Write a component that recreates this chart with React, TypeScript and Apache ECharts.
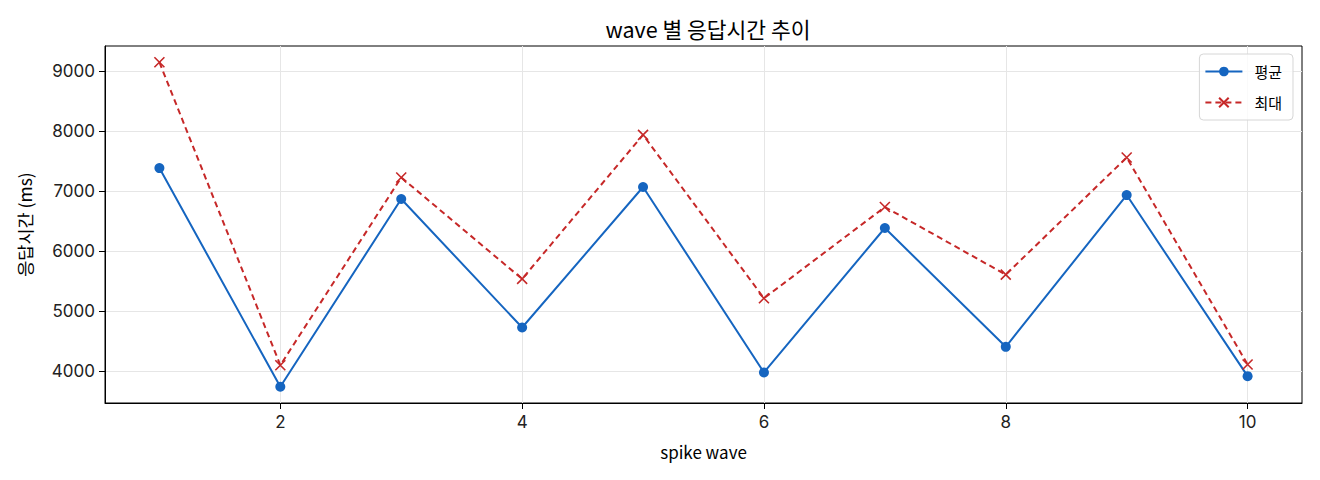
import { useEffect, useRef } from 'react';
import * as echarts from 'echarts';

const waves = [1, 2, 3, 4, 5, 6, 7, 8, 9, 10];
const avgMs = [7383, 3733, 6867, 4722, 7067, 3972, 6383, 4400, 6933, 3910];
const maxMs = [9150, 4093, 7227, 5533, 7938, 5210, 6733, 5605, 7560, 4105];
const xTicks = [2, 4, 6, 8, 10];
const yTicks = [4000, 5000, 6000, 7000, 8000, 9000];

const FONT = '"Noto Sans CJK KR", "Noto Sans", sans-serif';
const TICK_FONT = 'Inter, "Noto Sans CJK KR", sans-serif';

export default function App() {
  const chartRef = useRef<HTMLDivElement>(null);

  useEffect(() => {
    if (!chartRef.current) return;
    document.body.style.margin = '0';
    const chart = echarts.init(chartRef.current, undefined, { renderer: 'svg' });

    const xCross = 'path://M0,0L10,10M10,0L0,10';

    chart.setOption({
      animation: false,
      backgroundColor: '#fff',
      textStyle: { fontFamily: FONT },
      title: {
        text: 'wave 별 응답시간 추이',
        left: 703, top: 13, textAlign: 'center',
        textStyle: { fontSize: 21.5, fontWeight: 'normal', color: '#000', fontFamily: FONT },
      },
      legend: {
        orient: 'vertical', right: 27, top: 54,
        padding: [10, 11, 10, 5], itemGap: 16, itemWidth: 37, itemHeight: 12,
        backgroundColor: 'rgba(255,255,255,0.8)',
        borderColor: '#d6d6d6', borderWidth: 1, borderRadius: 4,
        textStyle: { fontSize: 15, color: '#000', fontFamily: FONT, padding: [0, 0, 0, 7] },
        data: ['평균', '최대'],
      },
      grid: {
        left: 105, right: 18, top: 46, bottom: 77,
        show: true, borderColor: '#000', borderWidth: 1,
      },
      xAxis: {
        type: 'value', min: 0.55, max: 10.45,
        name: 'spike wave', nameLocation: 'middle', nameGap: 40,
        nameTextStyle: { fontSize: 17, color: '#000', fontFamily: FONT },
        axisLine: { show: true, lineStyle: { color: '#000', width: 1 } },
        axisTick: { show: true, customValues: xTicks, length: 6, lineStyle: { color: '#000' } },
        axisLabel: { customValues: xTicks, fontSize: 17, color: '#222', margin: 10, fontFamily: TICK_FONT },
        splitLine: { show: true, lineStyle: { color: '#e6e6e6', width: 1 } },
      },
      yAxis: {
        type: 'value', min: 3462, max: 9421,
        name: '응답시간 (ms)', nameLocation: 'middle', nameGap: 72, nameRotate: 90,
        nameTextStyle: { fontSize: 17.5, color: '#000', fontFamily: FONT },
        axisLine: { show: true, lineStyle: { color: '#000', width: 1 } },
        axisTick: { show: true, customValues: yTicks, length: 6, lineStyle: { color: '#000' } },
        axisLabel: {
          customValues: yTicks, fontSize: 17, color: '#222', margin: 10, fontFamily: TICK_FONT,
          formatter: (v: number) => String(v),
        },
        splitLine: { show: true, lineStyle: { color: '#e6e6e6', width: 1 } },
      },
      series: [
        {
          name: '평균', type: 'line',
          data: waves.map((w, i) => [w, avgMs[i]]),
          symbol: 'circle', symbolSize: 10,
          itemStyle: { color: '#1565C0' },
          lineStyle: { color: '#1565C0', width: 2 },
          z: 3,
        },
        {
          name: '최대', type: 'line',
          data: waves.map((w, i) => [w, maxMs[i]]),
          symbol: xCross, symbolSize: 10, showAllSymbol: true,
          itemStyle: { color: 'none', borderColor: '#C62828', borderWidth: 1.6 },
          lineStyle: { color: '#C62828', width: 2, type: [6, 4] },
          z: 4,
        },
      ],
    });

    return () => { chart.dispose(); };
  }, []);

  return <div ref={chartRef} style={{ width: 1320, height: 480 }} />;
}
